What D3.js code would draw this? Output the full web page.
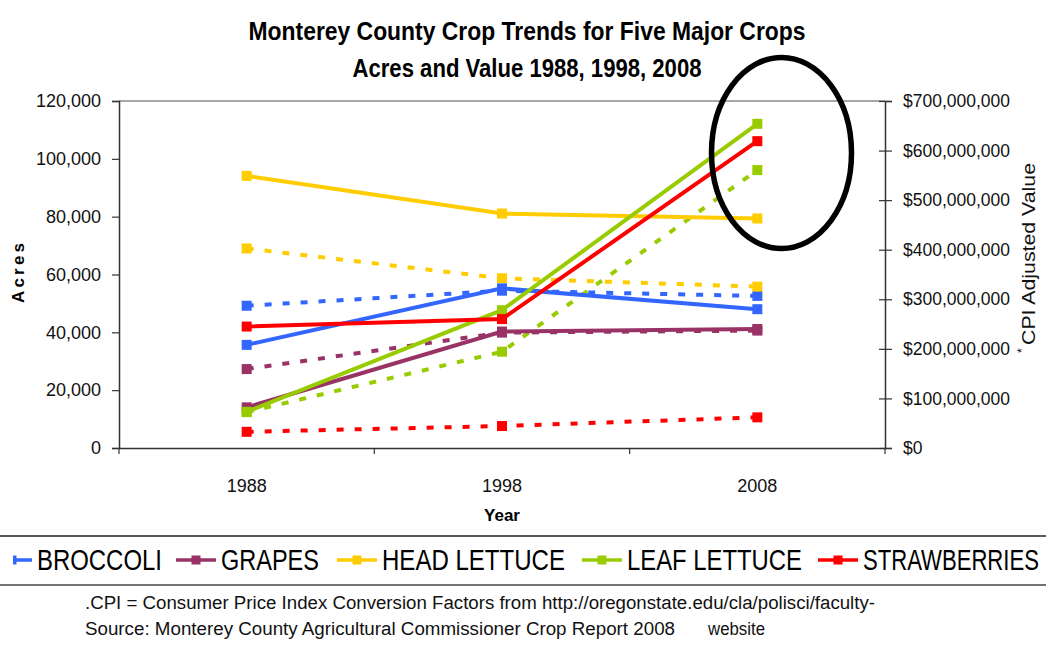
<!DOCTYPE html>
<html>
<head>
<meta charset="utf-8">
<script src="https://cdn.jsdelivr.net/npm/d3@7"></script>
<style>
  html, body { margin: 0; padding: 0; background: #fff; }
  svg { display: block; font-family: "Liberation Sans", Arial, sans-serif; }
</style>
</head>
<body>
<svg id="chart" width="1046" height="647"></svg>
<script>
// Years on the category axis
const years = ["1988", "1998", "2008"];

// Crops, in legend order, with their colours
const crops = ["BROCCOLI", "GRAPES", "HEAD LETTUCE", "LEAF LETTUCE", "STRAWBERRIES"];
const cropColors = ["#3366FF", "#993366", "#FFCC00", "#99CC00", "#FF0000"];

// Harvested acres (dashed lines, left axis)
const acresBroccoli     = [49200, 54400, 52600];
const acresGrapes       = [27300, 39900, 40600];
const acresHeadLettuce  = [69000, 58700, 55800];
const acresLeafLettuce  = [12400, 33300, 96100];
const acresStrawberries = [5600, 7600, 10600];

// CPI adjusted value in dollars (solid lines, right axis)
const valueBroccoli     = [208e6, 322e6, 280e6];
const valueGrapes       = [82e6, 235e6, 240e6];
const valueHeadLettuce  = [549e6, 473e6, 463e6];
const valueLeafLettuce  = [73e6, 278e6, 654e6];
const valueStrawberries = [245e6, 260e6, 619e6];

// Axis tick values
const acresTicks = [0, 20000, 40000, 60000, 80000, 100000, 120000];
const valueTicks = [0, 100e6, 200e6, 300e6, 400e6, 500e6, 600e6, 700e6];

const acresSeries = [acresBroccoli, acresGrapes, acresHeadLettuce, acresLeafLettuce, acresStrawberries];
const valueSeries = [valueBroccoli, valueGrapes, valueHeadLettuce, valueLeafLettuce, valueStrawberries];

const svg = d3.select("#chart");

const plot = { left: 119, right: 885, top: 101, bottom: 448 };

const x = d3.scaleBand().domain(years).range([plot.left, plot.right]).padding(0);
const xc = d => x(d) + x.bandwidth() / 2;
const yAcres = d3.scaleLinear().domain([0, 120000]).range([plot.bottom, plot.top]);
const yValue = d3.scaleLinear().domain([0, 700e6]).range([plot.bottom, plot.top]);

// Writes a text squeezed horizontally to a given width
function narrowText(parent, str, x0, y0, size, width, weight) {
  const t = parent.append("text")
    .attr("font-size", size).attr("fill", "#000")
    .attr("font-weight", weight || "normal")
    .text(str);
  const natural = t.node().getComputedTextLength();
  t.attr("transform", `translate(${x0},${y0}) scale(${width / natural},1)`);
  return t;
}

// Title
svg.append("text")
  .attr("x", 527).attr("y", 40)
  .attr("text-anchor", "middle")
  .attr("font-weight", "bold").attr("font-size", 26)
  .attr("textLength", 557).attr("lengthAdjust", "spacingAndGlyphs")
  .text("Monterey County Crop Trends for Five Major Crops");
svg.append("text")
  .attr("x", 527).attr("y", 77)
  .attr("text-anchor", "middle")
  .attr("font-weight", "bold").attr("font-size", 26)
  .attr("textLength", 349).attr("lengthAdjust", "spacingAndGlyphs")
  .text("Acres and Value 1988, 1998, 2008");

// Top frame line
svg.append("line")
  .attr("x1", plot.left).attr("x2", plot.right)
  .attr("y1", plot.top).attr("y2", plot.top)
  .attr("stroke", "#8a8a8a").attr("stroke-width", 1.5);

// Left axis (acres)
const gLeft = svg.append("g")
  .attr("transform", `translate(${plot.left},0)`)
  .call(d3.axisLeft(yAcres).tickValues(acresTicks).tickFormat(d3.format(",")).tickSize(7).tickPadding(11));
gLeft.select(".domain").attr("stroke", "#333").attr("stroke-width", 1.5);
gLeft.selectAll(".tick line").attr("stroke", "#333").attr("stroke-width", 1.2);
gLeft.selectAll(".tick text").attr("font-size", 18).attr("fill", "#111")
  .attr("font-family", "'Liberation Sans', Arial, sans-serif");

// Right axis (value)
const gRight = svg.append("g")
  .attr("transform", `translate(${plot.right},0)`)
  .call(d3.axisRight(yValue).tickValues(valueTicks)
    .tickFormat(d => "$" + d3.format(",")(d)).tickSize(7).tickPadding(11));
gRight.select(".domain").attr("stroke", "#333").attr("stroke-width", 1.5);
gRight.selectAll(".tick line").attr("x1", -6).attr("stroke", "#333").attr("stroke-width", 1.2);
gRight.selectAll(".tick text").attr("font-size", 17.5).attr("fill", "#111")
  .attr("font-family", "'Liberation Sans', Arial, sans-serif");

// Bottom axis (years) with ticks on category boundaries
const gBottom = svg.append("g")
  .attr("transform", `translate(0,${plot.bottom})`)
  .call(d3.axisBottom(x).tickSize(0).tickPadding(31));
gBottom.select(".domain").attr("stroke", "#333").attr("stroke-width", 1.5);
gBottom.selectAll(".tick text").attr("font-size", 18).attr("fill", "#111")
  .attr("font-family", "'Liberation Sans', Arial, sans-serif");
const boundaries = d3.range(years.length + 1).map(i => x.range()[0] + i * x.step());
gBottom.selectAll("line.bound").data(boundaries).join("line")
  .attr("class", "bound")
  .attr("x1", d => d).attr("x2", d => d)
  .attr("y1", 0).attr("y2", 6)
  .attr("stroke", "#333").attr("stroke-width", 1.2);

// Axis titles
svg.append("text")
  .attr("transform", "translate(24,273) rotate(-90)")
  .attr("text-anchor", "middle")
  .attr("font-weight", "bold").attr("font-size", 17)
  .attr("textLength", 60).attr("lengthAdjust", "spacing")
  .text("Acres");
svg.append("text")
  .attr("x", 502).attr("y", 521)
  .attr("text-anchor", "middle")
  .attr("font-weight", "bold").attr("font-size", 17)
  .text("Year");
const rTitle = svg.append("g").attr("transform", "translate(1035,353) rotate(-90)");
rTitle.append("text")
  .attr("x", 0).attr("y", -9)
  .attr("font-size", 12).attr("fill", "#111")
  .text("*");
rTitle.append("text")
  .attr("x", 8).attr("y", 0)
  .attr("font-size", 19).attr("fill", "#111")
  .attr("textLength", 182).attr("lengthAdjust", "spacingAndGlyphs")
  .text("CPI Adjusted Value");

// Series lines and markers
const lineAcres = d3.line().x((d, i) => xc(years[i])).y(d => yAcres(d));
const lineValue = d3.line().x((d, i) => xc(years[i])).y(d => yValue(d));
const markerSize = 10;

function drawSeries(values, scale, lineGen, color, dashed) {
  const g = svg.append("g");
  g.append("path")
    .datum(values)
    .attr("d", lineGen)
    .attr("fill", "none")
    .attr("stroke", color)
    .attr("stroke-width", 4)
    .attr("stroke-dasharray", dashed ? "7,11" : null);
  g.selectAll("rect").data(values).join("rect")
    .attr("x", (d, i) => xc(years[i]) - markerSize / 2)
    .attr("y", d => scale(d) - markerSize / 2)
    .attr("width", markerSize).attr("height", markerSize)
    .attr("fill", color);
}

acresSeries.forEach((vals, i) => drawSeries(vals, yAcres, lineAcres, cropColors[i], true));
valueSeries.forEach((vals, i) => drawSeries(vals, yValue, lineValue, cropColors[i], false));

// Highlight ellipse around the 2008 values
svg.append("ellipse")
  .attr("cx", 781.5).attr("cy", 153)
  .attr("rx", 70).attr("ry", 95.5)
  .attr("fill", "none").attr("stroke", "#000").attr("stroke-width", 5.5);

// Legend
svg.append("line").attr("x1", 0).attr("x2", 1046).attr("y1", 536).attr("y2", 536)
  .attr("stroke", "#222").attr("stroke-width", 1.5);
svg.append("line").attr("x1", 0).attr("x2", 1046).attr("y1", 585).attr("y2", 585)
  .attr("stroke", "#444").attr("stroke-width", 1.5);

svg.append("clipPath").attr("id", "legendClip")
  .append("rect").attr("x", 13).attr("y", 537).attr("width", 1033).attr("height", 47);

const legendTextX = [37, 221, 382, 627, 863];
const legendTextW = [125, 98, 183, 175, 176];
const legendKeys = svg.append("g").attr("clip-path", "url(#legendClip)");
const legendLabels = svg.append("g");
crops.forEach((name, i) => {
  const tx = legendTextX[i];
  legendKeys.append("line")
    .attr("x1", tx - 45).attr("x2", tx - 5)
    .attr("y1", 560).attr("y2", 560)
    .attr("stroke", cropColors[i]).attr("stroke-width", 3.5);
  legendKeys.append("rect")
    .attr("x", tx - 25 - 4.5).attr("y", 560 - 4.5)
    .attr("width", 9).attr("height", 9)
    .attr("fill", cropColors[i]);
  narrowText(legendLabels, name, tx, 570, 29, legendTextW[i]);
});

// Footnotes
svg.append("text")
  .attr("x", 85).attr("y", 609)
  .attr("font-size", 18).attr("fill", "#111")
  .attr("textLength", 790).attr("lengthAdjust", "spacingAndGlyphs")
  .text(".CPI = Consumer Price Index Conversion Factors from http://oregonstate.edu/cla/polisci/faculty-");
svg.append("text")
  .attr("x", 85).attr("y", 635)
  .attr("font-size", 18).attr("fill", "#111")
  .attr("textLength", 590).attr("lengthAdjust", "spacingAndGlyphs")
  .text("Source: Monterey County Agricultural Commissioner Crop Report 2008");
svg.append("text")
  .attr("x", 708).attr("y", 635)
  .attr("font-size", 18).attr("fill", "#111")
  .attr("textLength", 57).attr("lengthAdjust", "spacingAndGlyphs")
  .text("website");
</script>
</body>
</html>
